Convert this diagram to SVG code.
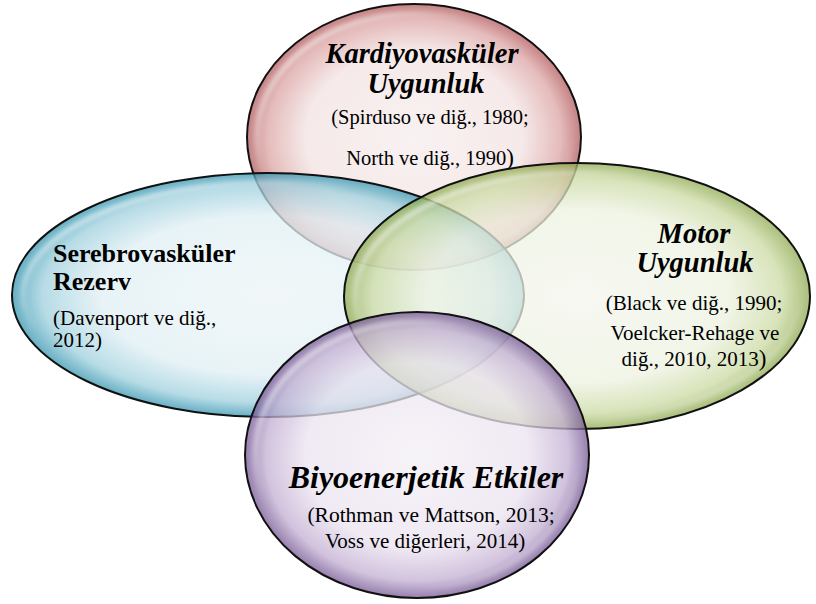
<svg xmlns="http://www.w3.org/2000/svg" width="816" height="604" viewBox="0 0 816 604">
<defs>
<radialGradient id="gRed" cx="0.5" cy="0.5" r="0.5">
<stop offset="0" stop-color="#f6eded"/><stop offset="0.65" stop-color="#f3e2e2"/><stop offset="0.88" stop-color="#dca4a4"/><stop offset="1" stop-color="#b0585a"/>
</radialGradient>
<radialGradient id="gBlue" cx="0.5" cy="0.5" r="0.5">
<stop offset="0" stop-color="#edf5f7"/><stop offset="0.65" stop-color="#e0eff4"/><stop offset="0.88" stop-color="#9fd0de"/><stop offset="1" stop-color="#3495b0"/>
</radialGradient>
<radialGradient id="gGreen" cx="0.5" cy="0.5" r="0.5">
<stop offset="0" stop-color="#f4f6ee"/><stop offset="0.65" stop-color="#edf2e0"/><stop offset="0.88" stop-color="#cbdaa3"/><stop offset="1" stop-color="#8ea94f"/>
</radialGradient>
<radialGradient id="gPurple" cx="0.5" cy="0.5" r="0.5">
<stop offset="0" stop-color="#f3eff5"/><stop offset="0.65" stop-color="#ebe3f0"/><stop offset="0.88" stop-color="#c2aed2"/><stop offset="1" stop-color="#735592"/>
</radialGradient>
<linearGradient id="hl" x1="0" y1="0" x2="1" y2="1">
<stop offset="0" stop-color="#fff" stop-opacity="0.9"/><stop offset="0.35" stop-color="#fff" stop-opacity="0"/><stop offset="0.75" stop-color="#fff" stop-opacity="0"/><stop offset="1" stop-color="#fff" stop-opacity="0.6"/>
</linearGradient>
<filter id="blur" x="-5%" y="-5%" width="110%" height="110%"><feGaussianBlur stdDeviation="2"/></filter>
</defs>
<style>
.bub{stroke:#111;stroke-width:2;fill-opacity:0.75}
.hl{fill:none;stroke:url(#hl);stroke-width:5;filter:url(#blur)}
.t{font-family:"Liberation Serif","Times New Roman",serif;fill:#000}
.ti{font-weight:bold;font-style:italic}
.tb{font-weight:bold}
.c{text-anchor:middle}
</style>
<rect width="816" height="604" fill="#fff"/>
<g id="kardiyo">
<ellipse class="bub" cx="414" cy="137" rx="167" ry="133" fill="url(#gRed)"/>
<ellipse class="hl" cx="414" cy="137" rx="157" ry="123"/>
</g>
<g id="serebro">
<ellipse class="bub" cx="268" cy="295" rx="256" ry="122" fill="url(#gBlue)"/>
<ellipse class="hl" cx="268" cy="295" rx="245" ry="112"/>
</g>
<g id="motor">
<ellipse class="bub" cx="577" cy="296" rx="233" ry="133" fill="url(#gGreen)"/>
<ellipse class="hl" cx="577" cy="296" rx="222" ry="123"/>
</g>
<g id="biyo">
<ellipse class="bub" cx="417" cy="455" rx="172" ry="143" fill="url(#gPurple)"/>
<ellipse class="hl" cx="417" cy="455" rx="162" ry="133"/>
</g>
<g id="labels">
<text class="t ti c" x="422" y="63" font-size="28.5">Kardiyovasküler</text>
<text class="t ti c" x="426" y="93" font-size="28.5">Uygunluk</text>
<text class="t c" x="430" y="124" font-size="20.5">(Spirduso ve diğ., 1980;</text>
<text class="t c" x="430" y="165" font-size="20.5">North ve diğ., 1990<tspan font-size="23">)</tspan></text>
<text class="t tb" x="53" y="262" font-size="26">Serebrovasküler</text>
<text class="t tb" x="53" y="290" font-size="26">Rezerv</text>
<text class="t" x="53" y="325" font-size="21">(Davenport ve diğ.,</text>
<text class="t" x="53" y="347" font-size="21">2012)</text>
<text class="t ti c" x="694" y="243" font-size="28.5">Motor</text>
<text class="t ti c" x="695" y="272" font-size="28.5">Uygunluk</text>
<text class="t c" x="694" y="310" font-size="21">(Black ve diğ., 1990;</text>
<text class="t c" x="695" y="340" font-size="21">Voelcker-Rehage ve</text>
<text class="t c" x="694" y="366" font-size="21">diğ., 2010, 2013<tspan font-size="23">)</tspan></text>
<text class="t ti c" x="426" y="488" font-size="32">Biyoenerjetik Etkiler</text>
<text class="t c" x="431" y="522" font-size="21.5">(Rothman ve Mattson, 2013;</text>
<text class="t c" x="425" y="548" font-size="21">Voss ve diğerleri, 2014)</text>
</g>
</svg>
